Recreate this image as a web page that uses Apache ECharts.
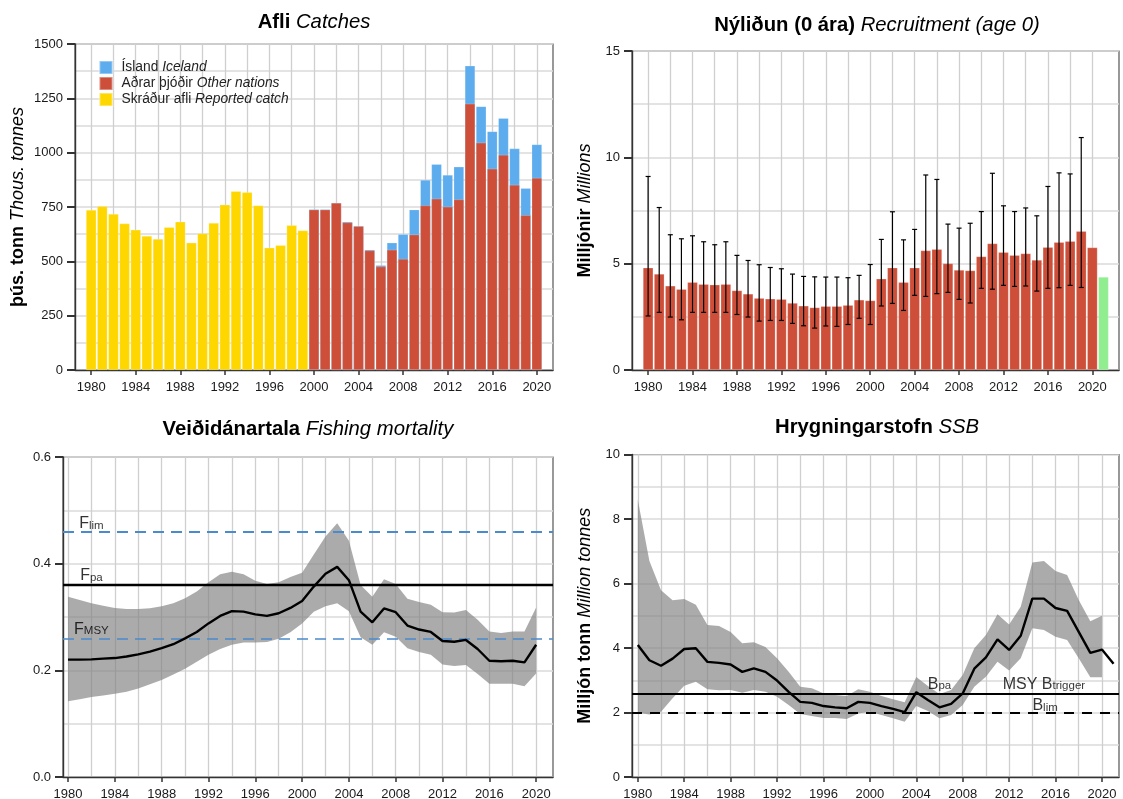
<!DOCTYPE html>
<html>
<head>
<meta charset="utf-8">
<title>Afli, nýliðun, veiðidánartala, hrygningarstofn</title>
<script src="https://cdn.jsdelivr.net/npm/echarts@6/dist/echarts.min.js"></script>
<style>
html, body { margin: 0; padding: 0; background: #fff; }
#main { width: 1123px; height: 799px; }
</style>
</head>
<body>
<div id="main"></div>
<script>
// x axis: grid lines every 2 years, labels every 4
var gridYears = [1980,1982,1984,1986,1988,1990,1992,1994,1996,1998,2000,2002,2004,2006,2008,2010,2012,2014,2016,2018,2020];
var labelYears = [1980,1984,1988,1992,1996,2000,2004,2008,2012,2016,2020];

// Catches
var reportedYears = [1980,1981,1982,1983,1984,1985,1986,1987,1988,1989,1990,1991,1992,1993,1994,1995,1996,1997,1998,1999];
var reportedCatch = [737,754,718,674,645,617,603,657,682,586,628,677,761,823,818,757,563,574,666,642];
var splitYears = [2000,2001,2002,2003,2004,2005,2006,2007,2008,2009,2010,2011,2012,2013,2014,2015,2016,2017,2018,2019,2020];
var otherCatch = [738,738,769,679,662,550,476,553,511,623,757,788,751,785,1225,1046,926,990,852,712,884];
var icelandCatch = [2,2,0,3,1,3,6,33,114,115,118,159,147,150,175,167,172,169,167,125,154];

// Recruitment
var recYears = [1980,1981,1982,1983,1984,1985,1986,1987,1988,1989,1990,1991,1992,1993,1994,1995,1996,1997,1998,1999,2000,2001,2002,2003,2004,2005,2006,2007,2008,2009,2010,2011,2012,2013,2014,2015,2016,2017,2018,2019,2020];
var recruitment = [4.81,4.52,3.96,3.80,4.13,4.04,4.01,4.04,3.74,3.58,3.38,3.35,3.33,3.15,3.02,2.94,3.00,3.00,3.05,3.30,3.27,4.29,4.81,4.13,4.81,5.62,5.68,5.01,4.70,4.68,5.34,5.95,5.54,5.40,5.48,5.17,5.78,6.01,6.06,6.53,5.76];
var recruitmentNext = [[2021, 4.37]];
var recErrYears = recYears.slice(0, 40);
var recUpper = [9.10,7.64,6.36,6.17,6.31,6.03,5.89,6.03,5.39,5.15,4.95,4.82,4.76,4.51,4.40,4.38,4.37,4.37,4.34,4.45,4.96,6.14,7.44,6.12,6.61,9.17,8.96,6.86,6.67,6.90,7.45,9.25,7.72,7.45,7.62,7.25,8.63,9.27,9.22,10.93];
var recLower = [2.54,2.71,2.49,2.36,2.71,2.71,2.71,2.71,2.61,2.49,2.30,2.33,2.33,2.19,2.08,1.97,2.07,2.05,2.14,2.43,2.14,3.01,3.13,2.80,3.51,3.46,3.59,3.65,3.32,3.15,3.84,3.80,3.98,3.93,3.95,3.71,3.84,3.87,3.98,3.88];

// Fishing mortality
var fYears = recYears;
var fMean = [.220,.220,.2205,.222,.223,.226,.230,.235,.2415,.249,.260,.272,.288,.302,.311,.310,.305,.302,.307,.317,.330,.357,.381,.394,.369,.310,.290,.316,.309,.284,.2765,.272,.255,.2535,.257,.240,.218,.217,.218,.215,.248];
var fUpper = [.338,.332,.326,.321,.317,.315,.315,.3166,.320,.326,.335,.348,.365,.380,.385,.380,.368,.362,.365,.375,.383,.417,.451,.476,.443,.360,.338,.371,.362,.334,.328,.323,.309,.3085,.313,.295,.273,.270,.273,.273,.318];
var fLower = [.142,.146,.150,.153,.156,.160,.166,.174,.182,.192,.203,.216,.229,.240,.248,.252,.252,.253,.259,.2715,.288,.310,.320,.326,.311,.262,.248,.2715,.263,.2415,.2346,.229,.211,.208,.210,.193,.175,.175,.175,.170,.194];

// SSB
var ssbYears = recYears.concat([2021]);
var ssbMean = [4.09,3.62,3.45,3.67,3.97,3.99,3.57,3.54,3.49,3.26,3.37,3.26,2.99,2.64,2.33,2.30,2.20,2.16,2.13,2.33,2.30,2.20,2.11,2.01,2.63,2.39,2.16,2.27,2.59,3.36,3.71,4.27,3.94,4.38,5.53,5.53,5.24,5.15,4.50,3.85,3.95,3.51];
var ssbUpper = [8.60,6.70,5.79,5.48,5.52,5.34,4.71,4.68,4.50,4.15,4.18,4.03,3.68,3.26,2.80,2.75,2.60,2.54,2.51,2.72,2.64,2.51,2.41,2.32,3.10,2.82,2.57,2.70,3.16,3.99,4.40,5.05,4.73,5.28,6.65,6.70,6.39,6.26,5.49,4.83,5.00];
var ssbLower = [1.99,1.94,2.02,2.44,2.83,2.95,2.72,2.69,2.70,2.61,2.70,2.64,2.49,2.23,1.95,1.89,1.83,1.83,1.80,1.97,2.02,1.92,1.82,1.71,2.20,2.05,1.82,1.92,2.23,2.80,3.11,3.57,3.30,3.68,4.61,4.56,4.35,4.25,3.68,3.09,3.09];

var FONT = '"Liberation Sans", Arial, sans-serif';
var myChart = echarts.init(document.getElementById('main'), null, { renderer: 'canvas' });

function zip(xs, ys) {
    return ys.map(function (y, i) { return [xs[i], y]; });
}

// 4 panels: each gets a grid, a gridline axis pair and a label axis pair
var panels = [
    { left: 75, top: 44, width: 478, height: 326, xMin: 1978.55, xMax: 2021.45, yMax: 1500, minor: 125, major: 250, digits: 0,
      name: '{b|þús. tonn} {i|Thous. tonnes}', gap: 48, xMargin: 11 },
    { left: 632, top: 51, width: 487, height: 319, xMin: 1978.55, xMax: 2022.4, yMax: 15, minor: 2.5, major: 5, digits: 0,
      name: '{b|Milljónir} {i|Millions}', gap: 38, xMargin: 11 },
    { left: 63, top: 457, width: 490, height: 320, xMin: 1979.57, xMax: 2021.44, yMax: 0.6, minor: 0.1, major: 0.2, digits: 1,
      name: '', gap: 0, xMargin: 11 },
    { left: 632, top: 454.5, width: 487, height: 322.5, xMin: 1979.5, xMax: 2021.47, yMax: 10, minor: 1, major: 2, digits: 0,
      name: '{b|Milljón tonn} {i|Million tonnes}', gap: 38, xMargin: 11 }
];

var grids = [], xAxes = [], yAxes = [];
panels.forEach(function (p, i) {
    grids.push({
        left: p.left, top: p.top, width: p.width, height: p.height,
        outerBoundsMode: 'none',
        show: true, borderColor: '#555', borderWidth: 1.2, backgroundColor: '#fff'
    });
    xAxes.push({
        gridIndex: i, type: 'value', position: 'top', min: p.xMin, max: p.xMax,
        axisLine: { show: false }, axisLabel: { show: false },
        axisTick: { show: false, customValues: gridYears },
        splitLine: { show: true, lineStyle: { color: '#cfcfcf', width: 1.3 } }
    });
    xAxes.push({
        gridIndex: i, type: 'value', position: 'bottom', min: p.xMin, max: p.xMax,
        axisLine: { show: true, onZero: false, lineStyle: { color: '#333', width: 1.4 } },
        axisTick: { show: true, length: 5, customValues: labelYears, lineStyle: { color: '#333', width: 1.5 } },
        axisLabel: {
            show: true, customValues: labelYears, margin: p.xMargin, fontFamily: FONT, fontSize: 13, color: '#1a1a1a',
            hideOverlap: false, showMinLabel: true, showMaxLabel: true,
            formatter: function (v) { return String(v); }
        },
        splitLine: { show: false }
    });
    yAxes.push({
        gridIndex: i, type: 'value', position: 'right', min: 0, max: p.yMax, interval: p.minor,
        axisLine: { show: false }, axisTick: { show: false }, axisLabel: { show: false },
        splitLine: { show: true, lineStyle: { color: '#dadada', width: 1.5 } }
    });
    yAxes.push({
        gridIndex: i, type: 'value', position: 'left', min: 0, max: p.yMax, interval: p.major,
        axisLine: { show: true, onZero: false, lineStyle: { color: '#333', width: 1.4 } },
        axisTick: { show: true, length: 8, lineStyle: { color: '#333', width: 2 } },
        axisLabel: {
            margin: 12, fontFamily: FONT, fontSize: 13, color: '#1a1a1a',
            formatter: function (v) { return v.toFixed(p.digits); }
        },
        splitLine: { show: false },
        name: p.name, nameLocation: 'middle', nameRotate: 90, nameGap: p.gap,
        nameTextStyle: {
            fontFamily: FONT, fontSize: 18,
            rich: {
                b: { fontFamily: FONT, fontWeight: 'bold', fontSize: 18, color: '#000' },
                i: { fontFamily: FONT, fontWeight: 'normal', fontStyle: 'italic', fontSize: 18, color: '#000' }
            }
        }
    });
});

function title(text, x, y) {
    return {
        text: text, left: x, top: y, padding: 0, textAlign: 'center',
        textStyle: {
            fontFamily: FONT, fontWeight: 'normal', fontSize: 20.3,
            rich: {
                b: { fontFamily: FONT, fontWeight: 'bold', fontSize: 20.3, color: '#000' },
                i: { fontFamily: FONT, fontWeight: 'normal', fontStyle: 'italic', fontSize: 20.3, color: '#000' }
            }
        }
    };
}

// bars overlap at the same x, taller ones first, so no stacking on the value axis
function barSeries(name, panel, data, color) {
    return {
        name: name, type: 'bar', xAxisIndex: panel * 2 + 1, yAxisIndex: panel * 2 + 1,
        barGap: '-100%', barWidth: 10.3, data: data,
        itemStyle: { color: color, borderColor: 'rgba(255,255,255,0.35)', borderWidth: 0.6 }
    };
}

// the uncertainty band, one polygon through the axis scales
function bandSeries(panel, xs, lower, upper) {
    var ax = panel * 2 + 1;
    return {
        type: 'custom', xAxisIndex: ax, yAxisIndex: ax, z: 2, silent: true,
        encode: { x: 0, y: [1, 2] },
        data: xs.map(function (x, i) { return [x, lower[i], upper[i]]; }),
        renderItem: function (params, api) {
            if (params.dataIndex !== 0) {
                return null;
            }
            var top = xs.map(function (x, i) { return api.coord([x, upper[i]]); });
            var bottom = xs.map(function (x, i) { return api.coord([x, lower[i]]); }).reverse();
            return {
                type: 'polygon',
                shape: { points: top.concat(bottom) },
                style: { fill: 'rgba(128,128,128,0.66)' }
            };
        }
    };
}

function refLine(value, color, width, type) {
    return {
        yAxis: value,
        lineStyle: { color: color, width: width, type: type }
    };
}

function meanSeries(panel, xs, ys, lines) {
    var ax = panel * 2 + 1;
    return {
        type: 'line', xAxisIndex: ax, yAxisIndex: ax, symbol: 'none', z: 5,
        lineStyle: { color: '#000', width: 2.4 }, data: zip(xs, ys),
        markLine: { silent: true, symbol: 'none', label: { show: false }, z: 4, data: lines }
    };
}

// reference point labels such as F_lim, drawn as real text
function refLabels(panel, items) {
    var ax = panel * 2 + 1;
    return {
        type: 'scatter', xAxisIndex: ax, yAxisIndex: ax, symbol: 'circle', symbolSize: 1, z: 6, silent: true,
        itemStyle: { color: 'transparent' },
        data: items.map(function (d) {
            return {
                value: [d[0], d[1]],
                label: {
                    show: true, position: 'inside', fontFamily: FONT,
                    formatter: '{m|' + d[2] + '}{s|' + d[3] + '}',
                    rich: {
                        m: { fontFamily: FONT, fontSize: 16, color: '#000', verticalAlign: 'top', lineHeight: 16 },
                        s: { fontFamily: FONT, fontSize: 11.5, color: '#000', verticalAlign: 'bottom', lineHeight: 12, padding: [17, 0, 0, 0] }
                    }
                }
            };
        })
    };
}

var legendText = {
    'Ísland': '{p| }{t|Ísland} {i|Iceland}',
    'Aðrar þjóðir': '{p| }{t|Aðrar þjóðir} {i|Other nations}',
    'Skráður afli': '{p| }{t|Skráður afli} {i|Reported catch}'
};

var totalCatch = otherCatch.map(function (v, i) { return v + icelandCatch[i]; });

var series = [
    barSeries('Ísland', 0, zip(splitYears, totalCatch), '#5CACEE'),
    barSeries('Aðrar þjóðir', 0, zip(splitYears, otherCatch), '#CD4F39'),
    barSeries('Skráður afli', 0, zip(reportedYears, reportedCatch), '#FFD700'),
    barSeries('Nýliðun', 1, zip(recYears, recruitment), '#CD4F39'),
    barSeries('Spá', 1, recruitmentNext, '#90EE90'),
    {
        type: 'custom', xAxisIndex: 3, yAxisIndex: 3, z: 5, silent: true,
        encode: { x: 0, y: [1, 2] },
        data: recErrYears.map(function (y, i) { return [y, recLower[i], recUpper[i]]; }),
        renderItem: function (params, api) {
            var lo = api.coord([api.value(0), api.value(1)]);
            var hi = api.coord([api.value(0), api.value(2)]);
            var style = { stroke: '#000', lineWidth: 1.2 };
            return {
                type: 'group',
                children: [
                    { type: 'line', shape: { x1: hi[0], y1: hi[1], x2: lo[0], y2: lo[1] }, style: style },
                    { type: 'line', shape: { x1: hi[0] - 2.5, y1: hi[1], x2: hi[0] + 2.5, y2: hi[1] }, style: style },
                    { type: 'line', shape: { x1: lo[0] - 2.5, y1: lo[1], x2: lo[0] + 2.5, y2: lo[1] }, style: style }
                ]
            };
        }
    }
];
series.push(bandSeries(2, fYears, fLower, fUpper));
series.push(meanSeries(2, fYears, fMean, [
    refLine(0.46, '#4A8BCB', 2, [11, 7]),
    refLine(0.36, '#000', 2.4, 'solid'),
    refLine(0.26, '#4A8BCB', 1.5, [11, 7])
]));
series.push(refLabels(2, [
    [1982, 0.475, 'F', 'lim'],
    [1982, 0.378, 'F', 'pa'],
    [1982, 0.277, 'F', 'MSY']
]));
series.push(bandSeries(3, ssbYears.slice(0, 41), ssbLower, ssbUpper));
series.push(meanSeries(3, ssbYears, ssbMean, [
    refLine(2.58, '#000', 1.8, 'solid'),
    refLine(2.0, '#000', 2, [10, 8])
]));
series.push(refLabels(3, [
    [2006, 2.88, 'B', 'pa'],
    [2015, 2.88, 'MSY B', 'trigger'],
    [2015.1, 2.21, 'B', 'lim']
]));

var option = {
    animation: false,
    backgroundColor: '#fff',
    title: [
        title('{b|Afli} {i|Catches}', 314, 12.5),
        title('{b|Nýliðun (0 ára)} {i|Recruitment (age 0)}', 877, 15.5),
        title('{b|Veiðidánartala} {i|Fishing mortality}', 308, 419),
        title('{b|Hrygningarstofn} {i|SSB}', 877, 417)
    ],
    legend: {
        left: 98.5, top: 60, padding: 0, orient: 'vertical', icon: 'rect', itemWidth: 13, itemHeight: 13, itemGap: 1,
        selectedMode: false,
        data: ['Ísland', 'Aðrar þjóðir', 'Skráður afli'],
        formatter: function (name) { return legendText[name]; },
        textStyle: {
            fontFamily: FONT, fontSize: 13.8,
            rich: {
                p: { width: 4, fontSize: 13.8, lineHeight: 13 },
                t: { fontFamily: FONT, fontSize: 13.8, color: '#222', lineHeight: 13 },
                i: { fontFamily: FONT, fontStyle: 'italic', fontSize: 13.8, color: '#222', lineHeight: 13 }
            }
        }
    },
    grid: grids,
    xAxis: xAxes,
    yAxis: yAxes,
    series: series
};

myChart.setOption(option);
</script>
</body>
</html>
